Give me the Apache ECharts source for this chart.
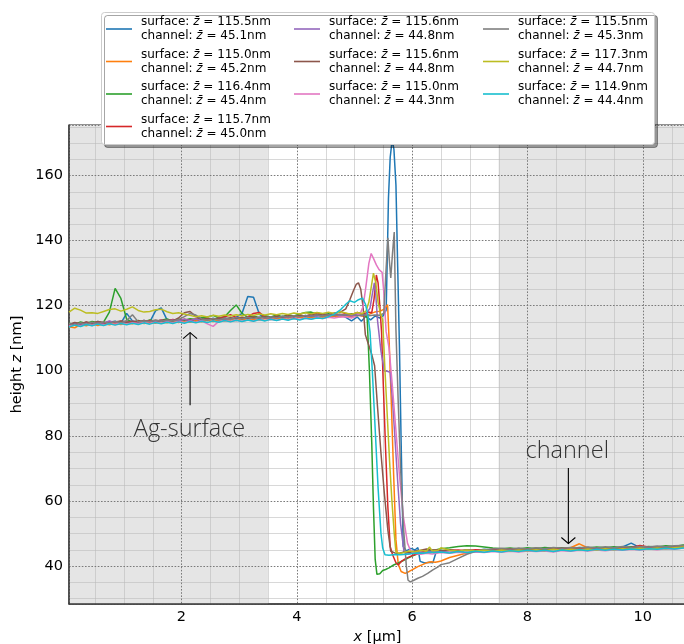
<!DOCTYPE html>
<html><head><meta charset="utf-8">
<script src="https://cdn.jsdelivr.net/npm/echarts@6/dist/echarts.min.js"></script>
<style>html,body{margin:0;padding:0;background:#fff}#c{width:684px;height:644px}</style>
</head><body><div id="c"></div>
<script>
// ---------- data ----------
const colors = ['#1f77b4','#ff7f0e','#2ca02c','#d62728','#9467bd','#8c564b','#e377c2','#7f7f7f','#bcbd22','#17becf'];
const surfaceMeans = ['115.5','115.0','116.4','115.7','115.6','115.6','115.0','115.5','117.3','114.9'];
const channelMeans = ['45.1','45.2','45.4','45.0','44.8','44.8','44.3','45.3','44.7','44.4'];

const xSurf = [0.05,0.15,0.25,0.35,0.45,0.55,0.65,0.75,0.85,0.95,1.05,1.15,1.25,1.35,1.45,1.55,1.65,1.75,1.85,1.95,2.05,2.15,2.25,2.35,2.45,2.55,2.65,2.75,2.85,2.95,3.05,3.15,3.25,3.35,3.45,3.55,3.65,3.75,3.85,3.95,4.05,4.15,4.25,4.35,4.45,4.55,4.65,4.75];
const xChan = [6.5,6.65,6.8,6.95,7.1,7.25,7.4,7.55,7.7,7.85,8.0,8.15,8.3,8.45,8.6,8.75,8.9,9.05,9.2,9.35,9.5,9.65,9.8,9.95,10.1,10.25,10.4,10.55,10.7,10.85];

const surf1 = [114.0,114.6,113.9,114.8,114.3,115.1,114.5,114.9,115.2,114.6,117.6,115.3,114.7,115.4,114.9,118.4,119.3,115.6,114.9,115.6,115.0,115.7,115.2,116.0,115.4,116.1,115.5,116.2,115.6,116.4,117.6,122.8,122.6,117.4,116.1,116.6,116.0,116.7,116.2,116.9,116.4,117.0,116.5,117.1,116.6,117.0,116.7,117.2];
const step1 = [[4.85,116.4],[4.95,115.3],[5.05,116.5],[5.12,115.2],[5.2,116.7],[5.28,115.6],[5.36,116.8],[5.44,116.2],[5.5,116.9],[5.55,118.6],[5.57,135],[5.59,153],[5.62,165.5],[5.655,171],[5.685,168],[5.72,157],[5.75,132],[5.78,108],[5.81,78],[5.845,46],[5.9,44.6],[5.98,45.4],[6.05,44.9],[6.1,45.6],[6.14,41.4],[6.22,40.9],[6.3,41.1],[6.36,41.0],[6.41,43.9],[6.45,44.3]];
const chan1 = [44.5,44.9,44.4,45.0,44.7,45.1,44.8,45.2,44.9,45.3,45.0,45.4,45.1,45.5,45.2,45.5,45.3,45.7,45.3,45.6,45.4,45.8,47.0,45.6,45.9,45.6,46.0,45.7,46.2,46.0];

const surf2 = [113.5,113.2,114.2,113.8,114.4,113.9,114.5,114.1,114.6,114.2,114.7,114.4,115.0,114.5,114.9,114.6,115.1,114.7,115.2,114.8,115.3,114.9,115.4,115.0,115.5,115.1,115.6,115.3,115.7,115.4,115.8,115.5,115.9,115.6,116.0,115.7,116.1,115.9,116.3,116.0,116.4,116.1,116.5,116.3,116.6,116.4,116.8,116.6];
const step2 = [[4.85,116.9],[4.95,116.5],[5.05,117.1],[5.15,116.7],[5.25,117.3],[5.35,118.0],[5.45,118.3],[5.52,119.0],[5.575,120.3],[5.6,110],[5.64,90],[5.68,68],[5.72,48],[5.76,40.5],[5.81,38.3],[5.88,37.7],[5.95,38.3],[6.03,39.1],[6.1,39.8],[6.18,40.4],[6.26,41.0],[6.33,41.3],[6.4,41.1],[6.45,41.3]];
const chan2 = [41.5,42.6,43.3,44.0,44.6,44.9,45.0,45.2,45.0,45.3,45.1,45.4,45.2,45.5,45.3,45.6,46.8,45.5,45.6,45.4,45.7,45.5,45.8,45.6,45.9,45.7,46.0,45.8,46.1,46.2];

const surf3 = [114.6,114.2,115.0,114.5,115.1,114.7,114.9,118.0,125.3,122.2,115.8,114.9,115.4,115.0,115.6,115.2,115.5,115.9,115.3,115.8,115.5,116.0,115.7,116.3,116.5,117.0,116.2,116.6,118.5,120.2,117.6,116.4,116.8,116.3,116.9,116.5,117.1,116.6,117.2,116.8,117.4,117.9,118.0,117.4,117.1,117.5,117.0,117.3];
const step3 = [[4.85,117.1],[4.95,117.5],[5.05,117.0],[5.12,117.4],[5.18,116.9],[5.22,116.4],[5.26,100],[5.3,78],[5.33,58],[5.36,42],[5.39,37.4],[5.44,37.6],[5.49,38.6],[5.54,38.9],[5.6,39.4],[5.68,40.3],[5.76,40.9],[5.84,41.6],[5.92,42.3],[6.0,43.0],[6.1,43.7],[6.2,44.2],[6.3,44.7],[6.4,44.9]];
const chan3 = [45.3,45.6,46.0,46.2,46.1,45.8,45.5,45.3,45.5,45.2,45.6,45.3,45.7,45.4,45.6,45.3,45.7,45.5,45.8,45.6,45.9,45.6,45.9,45.7,46.0,45.8,46.2,46.0,46.4,46.8];

const surf4 = [113.9,114.7,114.3,114.9,114.5,115.0,114.6,115.1,114.8,115.2,115.0,114.7,115.3,114.9,115.4,115.1,115.6,115.2,115.7,115.4,115.8,115.5,115.9,115.6,116.0,115.7,116.1,116.6,117.2,116.4,116.0,116.5,117.6,117.9,116.4,116.2,116.7,116.4,116.9,116.6,117.0,116.7,117.2,117.8,117.3,117.0,117.4,117.1];
const step4 = [[4.85,117.6],[4.95,117.2],[5.05,117.9],[5.15,117.4],[5.24,118.0],[5.3,117.8],[5.34,122],[5.38,129.4],[5.41,127],[5.44,120],[5.47,112],[5.5,96],[5.54,76],[5.58,58],[5.62,46],[5.66,43.5],[5.72,41.0],[5.76,40.3],[5.82,41.5],[5.9,42.4],[5.98,43.0],[6.06,43.6],[6.15,44.2],[6.25,44.5],[6.35,44.3],[6.45,44.7]];
const chan4 = [44.5,44.8,44.9,44.7,45.0,44.8,45.1,44.9,45.2,45.0,45.3,45.0,45.3,45.1,45.4,45.2,45.4,45.3,45.5,45.3,45.6,45.4,45.7,46.3,45.8,45.6,45.9,45.7,46.1,46.0];

const surf5 = [113.8,114.5,114.1,114.8,114.3,114.9,114.6,115.3,114.7,115.0,114.8,115.3,114.9,115.4,115.0,115.2,115.5,115.1,115.6,115.3,115.8,115.4,115.9,115.5,116.0,115.6,116.1,115.8,116.2,115.9,116.3,116.0,116.4,116.1,116.5,116.2,116.6,116.4,116.7,116.5,116.8,116.6,116.9,116.7,117.1,116.8,117.2,116.9];
const step5 = [[4.85,117.3],[4.95,116.8],[5.05,117.4],[5.12,116.9],[5.2,117.3],[5.27,119.2],[5.31,123.5],[5.345,127.0],[5.37,123.5],[5.4,115.5],[5.46,106],[5.52,99.9],[5.57,99.8],[5.62,99.5],[5.66,91],[5.7,80],[5.75,66],[5.8,53],[5.86,44.2],[5.92,43.6],[6.0,43.9],[6.1,44.3],[6.2,44.1],[6.3,44.5],[6.4,44.4]];
const chan5 = [44.5,44.7,44.4,44.8,44.5,44.9,44.6,45.0,44.7,45.0,44.8,45.1,44.9,45.2,44.9,45.3,45.0,45.3,45.1,45.4,45.2,45.5,45.3,45.6,45.4,45.7,45.5,45.8,45.9,46.0];

const surf6 = [114.2,114.8,114.4,115.0,114.6,115.1,114.8,114.5,115.0,115.3,114.9,115.2,115.0,115.4,115.1,115.5,115.2,115.6,115.3,116.2,117.8,118.2,116.6,115.8,116.1,115.7,116.2,115.9,116.3,116.0,116.4,116.1,116.5,116.2,116.6,116.3,116.8,116.5,116.9,116.6,117.0,116.8,117.3,117.0,117.5,117.2,117.7,117.9];
const step6 = [[4.85,119.0],[4.92,121.8],[4.98,124.5],[5.03,126.5],[5.07,127.0],[5.11,125.0],[5.15,119.5],[5.19,111],[5.24,108.3],[5.3,105.0],[5.35,101.5],[5.4,89],[5.46,74.7],[5.52,62],[5.58,51],[5.63,44.5],[5.7,44.0],[5.78,43.9],[5.86,44.3],[5.95,44.1],[6.05,44.6],[6.15,44.8],[6.25,45.2],[6.35,44.9],[6.45,45.0]];
const chan6 = [44.7,45.0,44.6,44.9,44.5,44.8,44.6,44.9,44.7,45.0,44.8,45.1,44.9,45.1,44.8,45.2,44.9,45.2,45.0,45.3,45.1,45.4,45.2,45.5,45.3,45.6,45.4,45.7,45.9,46.1];

const surf7 = [113.6,114.1,113.7,114.3,113.9,114.4,114.0,114.5,114.2,114.6,114.3,114.7,114.4,114.8,114.5,114.9,114.6,115.0,114.7,115.1,114.8,115.2,114.9,115.3,114.4,113.6,115.2,115.4,115.1,115.5,115.2,115.6,115.3,115.7,115.4,115.8,115.5,115.9,115.7,116.0,115.8,116.1,115.9,116.3,116.0,116.4,116.2,116.5];
const step7 = [[4.85,116.6],[4.95,116.2],[5.03,116.8],[5.1,117.5],[5.15,119.7],[5.2,126],[5.25,133],[5.29,136.0],[5.33,134.5],[5.38,132.5],[5.43,131.0],[5.48,130.2],[5.51,124],[5.55,112],[5.6,107],[5.65,97],[5.7,86],[5.78,68],[5.85,55],[5.92,47],[5.97,44.8],[6.05,43.8],[6.15,43.6],[6.25,43.9],[6.35,43.7],[6.45,44.0]];
const chan7 = [44.1,43.9,44.2,44.0,44.3,44.1,44.4,44.2,44.5,44.3,44.6,44.4,44.6,44.3,44.7,44.5,44.8,44.6,44.9,44.7,45.0,44.8,45.1,44.9,45.2,45.0,45.3,45.1,45.5,45.6];

const surf8 = [114.5,114.0,114.7,114.2,114.9,114.4,115.0,114.6,115.1,114.7,115.4,117.2,115.0,115.3,115.1,115.5,115.2,115.6,115.3,115.7,116.6,117.6,117.1,115.9,115.5,116.0,115.6,116.2,115.8,116.3,115.9,116.4,116.0,116.5,116.1,116.6,116.2,116.7,116.4,116.9,116.5,117.0,116.6,117.1,116.8,117.2,116.9,117.3];
const step8 = [[4.85,117.0],[4.95,117.3],[5.05,116.9],[5.15,117.2],[5.25,116.9],[5.35,117.1],[5.45,117.0],[5.51,117.7],[5.545,130],[5.58,140.8],[5.605,134],[5.63,128.5],[5.66,136],[5.69,142.6],[5.72,112.5],[5.76,90],[5.8,70],[5.85,52],[5.9,40],[5.93,35.6],[5.97,35.1],[6.03,35.6],[6.1,36.2],[6.18,36.8],[6.27,37.7],[6.36,38.8],[6.45,39.7]];
const chan8 = [40.4,41.0,42.3,43.6,44.5,45.0,45.2,45.4,45.1,45.5,45.2,45.6,45.3,45.7,45.4,45.7,45.5,45.8,45.5,45.9,45.6,46.0,45.7,46.0,45.8,46.1,45.9,46.2,46.3,46.4];

const surf9 = [118.0,119.2,118.6,117.7,117.8,117.6,118.2,118.8,119.0,118.3,118.9,119.6,118.5,118.0,118.2,118.7,118.9,118.1,117.6,117.8,117.4,117.0,116.6,116.9,116.5,117.0,116.7,117.1,116.8,117.2,116.9,117.3,117.0,117.4,117.1,117.5,117.2,117.6,117.3,117.7,117.4,117.8,117.5,117.9,117.6,118.0,117.6,118.1];
const step9 = [[4.85,117.7],[4.95,117.3],[5.05,117.9],[5.13,117.5],[5.2,118.3],[5.25,121],[5.29,125.5],[5.33,130.0],[5.37,127],[5.41,121],[5.45,117.8],[5.49,115.5],[5.53,100],[5.57,86],[5.61,72],[5.65,60],[5.69,50],[5.72,44.2],[5.78,43.8],[5.86,44.1],[5.95,44.6],[6.05,44.3],[6.15,44.8],[6.25,44.5],[6.3,45.8],[6.35,44.6],[6.45,44.8]];
const chan9 = [45.6,44.8,44.5,44.9,44.6,44.8,44.5,44.9,44.6,44.9,44.7,45.0,44.7,45.1,44.8,45.1,44.9,45.2,44.9,45.3,45.0,45.3,45.1,45.4,45.2,45.5,45.3,45.6,45.8,46.0];

const surf10 = [113.4,114.0,113.6,114.2,113.8,114.3,113.9,114.4,114.0,114.5,114.1,114.6,114.2,114.7,114.3,114.8,114.4,114.9,114.5,115.0,114.6,115.1,114.7,115.2,114.8,115.3,114.9,115.4,115.0,115.5,115.1,115.6,115.2,115.7,115.3,115.8,115.4,115.9,115.5,116.0,115.6,116.1,115.8,116.2,116.0,116.6,117.4,118.6];
const step10 = [[4.85,120.4],[4.92,121.5],[5.0,121.0],[5.07,121.8],[5.14,122.3],[5.19,120.5],[5.23,117.5],[5.27,112],[5.31,100],[5.36,82],[5.41,64],[5.46,50],[5.49,45.5],[5.53,43.4],[5.6,43.3],[5.7,43.5],[5.8,43.4],[5.9,43.6],[6.0,43.8],[6.1,44.0],[6.2,43.9],[6.3,44.2],[6.4,44.1]];
const chan10 = [44.3,44.0,44.4,44.1,44.5,44.2,44.6,44.3,44.7,44.4,44.8,44.5,44.8,44.4,44.9,44.6,45.0,44.7,45.1,44.8,45.1,44.9,45.2,45.0,45.3,45.1,45.4,45.2,45.5,45.6];

const surfs = [surf1,surf2,surf3,surf4,surf5,surf6,surf7,surf8,surf9,surf10];
const steps = [step1,step2,step3,step4,step5,step6,step7,step8,step9,step10];
const chans = [chan1,chan2,chan3,chan4,chan5,chan6,chan7,chan8,chan9,chan10];

const shadeRanges = [[0.05, 3.5], [7.5, 10.8]];
const minorX = [0.5,1,1.5,2.5,3,3.5,4.5,5,5.5,6.5,7,7.5,8.5,9,9.5,10.5];
const minorY = [30,35,45,50,55,65,70,75,85,90,95,105,110,115,125,130,135,145,150,155,165,170,175];
const arrows = [[2.15, 89.4, 111.7], [8.71, 70.1, 46.9]];
const annoPos = [[2.14, 82.1], [8.69, 75.3]];
const annoText = ['Ag-surface', 'channel'];

// ---------- build ----------
const labels = surfaceMeans.map((s, i) =>
  'surface: {i|z\u0304} = ' + s + 'nm\nchannel: {i|z\u0304} = ' + channelMeans[i] + 'nm');
const names = labels.map((_, i) => 'p' + i);

const lineSeries = names.map((n, k) => ({
  name: n, type: 'line', z: 3, showSymbol: false, symbol: 'none',
  lineStyle: { width: 1.5, color: colors[k] }, itemStyle: { color: colors[k] },
  data: xSurf.map((x, i) => [x, surfs[k][i]]).concat(steps[k]).concat(xChan.map((x, i) => [x, chans[k][i]]))
}));

const font = 'DejaVu Sans';
const chart = echarts.init(document.getElementById('c'), null, { renderer: 'canvas' });

const legendCols = [[0,1,2,3],[4,5,6],[7,8,9]];
const legendLeft = [106, 294, 483];

chart.setOption({
  animation: false,
  color: colors,
  grid: { left: 69, right: -2, top: 125, bottom: 40, show: true, borderColor: '#222', borderWidth: 1, containLabel: false, outerBoundsMode: 'none' },
  xAxis: {
    type: 'value', min: 0.05, max: 10.75, minInterval: 2, maxInterval: 2, z: 2,
    name: '{i|x} [\u03bcm]', nameLocation: 'middle', nameGap: 25,
    nameTextStyle: { fontFamily: font, fontSize: 14.5, color: '#000', rich: { i: { fontFamily: font, fontSize: 14.5, fontStyle: 'italic', color: '#000' } } },
    axisLine: { show: true, lineStyle: { color: '#3a3a3a', width: 1.5 } },
    axisTick: { show: false },
    axisLabel: { margin: 6, fontFamily: font, fontSize: 14.5, color: '#000', showMinLabel: false, showMaxLabel: false,
      formatter: v => (Math.abs(v / 2 - Math.round(v / 2)) < 1e-6 ? String(Math.round(v)) : '') },
    splitLine: { show: true, lineStyle: { color: '#7a7a7a', width: 1, type: [1.6, 1.6] } }
  },
  yAxis: {
    type: 'value', min: 28.3, max: 175.5, minInterval: 20, maxInterval: 20, z: 2,
    name: 'height {i|z} [nm]', nameLocation: 'middle', nameGap: 43,
    nameTextStyle: { fontFamily: font, fontSize: 14.5, color: '#000', rich: { i: { fontFamily: font, fontSize: 14.5, fontStyle: 'italic', color: '#000' } } },
    axisLine: { show: true, lineStyle: { color: '#3a3a3a', width: 1.5 } },
    axisTick: { show: false },
    axisLabel: { margin: 6, fontFamily: font, fontSize: 14.5, color: '#000', showMinLabel: false, showMaxLabel: false,
      formatter: v => (Math.abs(v / 20 - Math.round(v / 20)) < 1e-6 ? String(Math.round(v)) : '') },
    splitLine: { show: true, lineStyle: { color: '#7a7a7a', width: 1, type: [1.6, 1.6] } }
  },
  legend: legendCols.map((idx, c) => ({
    data: idx.map(i => names[i]),
    formatter: n => labels[+n.slice(1)],
    orient: 'vertical', left: legendLeft[c], top: 15, padding: 0,
    itemGap: 4.5, itemWidth: 26, itemHeight: 1.6, icon: 'rect',
    z: 60, selectedMode: false,
    textStyle: { fontFamily: font, fontSize: 12, lineHeight: 14, color: '#000', padding: [0, 0, 0, 4],
      rich: { i: { fontFamily: font, fontSize: 12, lineHeight: 14, fontStyle: 'italic', color: '#000' } } }
  })),
  graphic: {
    elements: [{
      type: 'rect', z: 50, silent: true,
      shape: { x: 101.5, y: 12.5, width: 553, height: 132, r: 3 },
      style: { fill: '#fff', stroke: '#cccccc', lineWidth: 1, shadowColor: 'rgba(0,0,0,0.35)', shadowOffsetX: 3, shadowOffsetY: 3, shadowBlur: 0 }
    }]
  },
  series: [
    {
      type: 'custom', z: 1, silent: true, clip: true,
      data: shadeRanges,
      renderItem: (params, api) => {
        const cs = params.coordSys;
        let x0 = api.coord([api.value(0), 100])[0];
        let x1 = api.coord([api.value(1), 100])[0];
        x0 = Math.max(x0, cs.x); x1 = Math.min(x1, cs.x + cs.width + 4);
        return { type: 'rect', shape: { x: x0, y: cs.y, width: x1 - x0, height: cs.height }, style: { fill: '#e5e5e5' } };
      }
    },
    {
      type: 'custom', z: 1.5, silent: true,
      data: minorX.map(v => [v, 100]),
      renderItem: (params, api) => {
        const cs = params.coordSys;
        const x = Math.round(api.coord([api.value(0), 100])[0]) + 0.5;
        return { type: 'line', shape: { x1: x, y1: cs.y, x2: x, y2: cs.y + cs.height }, style: { stroke: 'rgba(187,187,187,0.57)', lineWidth: 1 } };
      }
    },
    {
      type: 'custom', z: 1.5, silent: true,
      data: minorY.map(v => [1, v]),
      renderItem: (params, api) => {
        const cs = params.coordSys;
        const y = Math.round(api.coord([1, api.value(1)])[1]) + 0.5;
        return { type: 'line', shape: { x1: cs.x, y1: y, x2: cs.x + cs.width, y2: y }, style: { stroke: 'rgba(187,187,187,0.57)', lineWidth: 1 } };
      }
    },
    ...lineSeries,
    {
      type: 'custom', z: 5, silent: true,
      data: arrows,
      renderItem: (params, api) => {
        const tail = api.coord([api.value(0), api.value(1)]);
        const tip = api.coord([api.value(0), api.value(2)]);
        const d = tip[1] < tail[1] ? 1 : -1;
        return { type: 'group', children: [
          { type: 'line', shape: { x1: tail[0], y1: tail[1], x2: tip[0], y2: tip[1] }, style: { stroke: '#000', lineWidth: 1.1 } },
          { type: 'polyline', shape: { points: [[tip[0] - 7, tip[1] + d * 6], [tip[0], tip[1]], [tip[0] + 7, tip[1] + d * 6]] }, style: { stroke: '#000', fill: null, lineWidth: 1.1 } }
        ] };
      }
    },
    {
      type: 'custom', z: 5, silent: true,
      data: annoPos,
      renderItem: (params, api) => {
        const p = api.coord([api.value(0), api.value(1)]);
        return { type: 'text', x: p[0], y: p[1], style: { text: annoText[params.dataIndex], fontFamily: 'Open Sans', fontWeight: 300, fontSize: 23.5, fill: '#333', align: 'center', verticalAlign: 'middle' } };
      }
    }
  ]
});
</script>
</body></html>
